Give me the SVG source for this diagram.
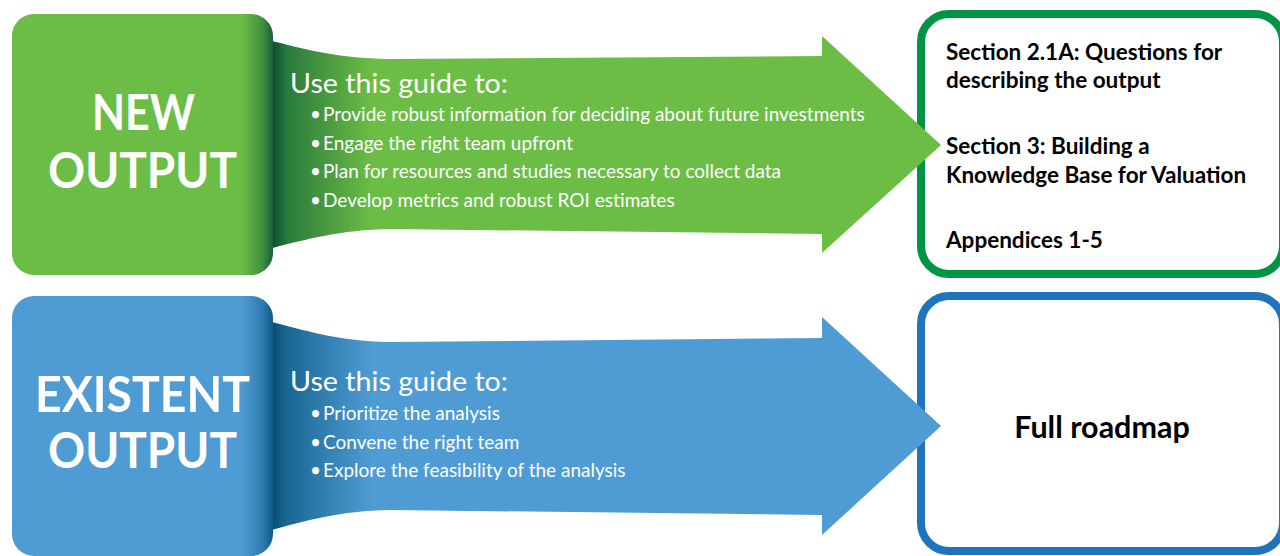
<svg xmlns="http://www.w3.org/2000/svg" width="1280" height="556" viewBox="0 0 1280 556">
<defs>
<linearGradient id="gSq" gradientUnits="userSpaceOnUse" x1="12" y1="0" x2="273" y2="0">
<stop offset="0" stop-color="#6cbd45"/><stop offset="0.88" stop-color="#6cbd45"/><stop offset="0.96" stop-color="#3f8f3f"/><stop offset="1" stop-color="#1b5e3a"/>
</linearGradient>
<linearGradient id="gSh" gradientUnits="userSpaceOnUse" x1="272" y1="0" x2="372" y2="0">
<stop offset="0" stop-color="#0c4a30"/><stop offset="0.15" stop-color="#2a7a3c"/><stop offset="1" stop-color="#6cbd45"/>
</linearGradient>
<linearGradient id="bSq" gradientUnits="userSpaceOnUse" x1="12" y1="0" x2="273" y2="0">
<stop offset="0" stop-color="#4f9cd4"/><stop offset="0.88" stop-color="#4f9cd4"/><stop offset="0.96" stop-color="#2f7aaf"/><stop offset="1" stop-color="#0f5a86"/>
</linearGradient>
<linearGradient id="bSh" gradientUnits="userSpaceOnUse" x1="272" y1="0" x2="372" y2="0">
<stop offset="0" stop-color="#064b72"/><stop offset="0.15" stop-color="#1a6795"/><stop offset="1" stop-color="#4f9cd4"/>
</linearGradient>
</defs>
<style>
.big{font-family:Lato,"Liberation Sans",sans-serif;font-weight:700;font-size:50px;fill:#fff}
.head{font-family:Lato,"Liberation Sans",sans-serif;font-weight:400;font-size:26px;fill:#fff}
.bul{font-family:Lato,"Liberation Sans",sans-serif;font-weight:400;font-size:19px;fill:#fff}
.box{font-family:Lato,"Liberation Sans",sans-serif;font-weight:700;font-size:22.5px;fill:#000}
.full{font-family:Lato,"Liberation Sans",sans-serif;font-weight:700;font-size:30.5px;fill:#000;text-anchor:middle}
</style>
<rect width="1280" height="556" fill="#fff"/>

<g id="box-new-sections">
<rect x="921" y="14" width="362" height="260" rx="28" fill="#fff" stroke="#009444" stroke-width="8"/>
<text class="box" x="946" y="60">Section 2.1A: Questions for</text>
<text class="box" x="946" y="88">describing the output</text>
<text class="box" x="946" y="154">Section 3: Building a</text>
<text class="box" x="946" y="183">Knowledge Base for Valuation</text>
<text class="box" x="946" y="248">Appendices 1-5</text>
</g>

<g id="box-full-roadmap">
<rect x="921" y="296" width="362" height="255" rx="28" fill="#fff" stroke="#2074bb" stroke-width="8"/>
<text class="full" x="1102" y="438">Full roadmap</text>
</g>

<g id="connectors">
<path id="arrow-new" fill="url(#gSh)" d="M268 40 C305 49 335 58 390 59 L822 56 L822 36 L941 145 L822 253 L822 234 L390 229 C340 230 308 239 268 249 Z"/>
<path id="arrow-existent" fill="url(#bSh)" d="M268 321 C305 330 335 341 390 342 L822 338 L822 317 L941 426 L822 535 L822 515 L390 510 C340 511 308 520 268 531 Z"/>
</g>

<g id="label-new">
<text class="head" x="290" y="93" textLength="218" lengthAdjust="spacingAndGlyphs">Use this guide to:</text>
<text class="bul" y="121"><tspan x="310">•</tspan><tspan x="323">Provide robust information for deciding about future investments</tspan></text>
<text class="bul" y="150"><tspan x="310">•</tspan><tspan x="323">Engage the right team upfront</tspan></text>
<text class="bul" y="178"><tspan x="310">•</tspan><tspan x="323">Plan for resources and studies necessary to collect data</tspan></text>
<text class="bul" y="207"><tspan x="310">•</tspan><tspan x="323">Develop metrics and robust ROI estimates</tspan></text>
</g>

<g id="label-existent">
<text class="head" x="290" y="391" textLength="218" lengthAdjust="spacingAndGlyphs">Use this guide to:</text>
<text class="bul" y="420"><tspan x="310">•</tspan><tspan x="323">Prioritize the analysis</tspan></text>
<text class="bul" y="449"><tspan x="310">•</tspan><tspan x="323">Convene the right team</tspan></text>
<text class="bul" y="477"><tspan x="310">•</tspan><tspan x="323">Explore the feasibility of the analysis</tspan></text>
</g>

<g id="node-new-output">
<rect x="12" y="14" width="261" height="261" rx="22" fill="url(#gSq)"/>
<text class="big" x="92" y="130" textLength="103" lengthAdjust="spacingAndGlyphs">NEW</text>
<text class="big" x="48" y="188" textLength="189" lengthAdjust="spacingAndGlyphs">OUTPUT</text>
</g>

<g id="node-existent-output">
<rect x="12" y="296" width="261" height="260" rx="22" fill="url(#bSq)"/>
<text class="big" x="35" y="412" textLength="215" lengthAdjust="spacingAndGlyphs">EXISTENT</text>
<text class="big" x="48" y="468" textLength="189" lengthAdjust="spacingAndGlyphs">OUTPUT</text>
</g>
</svg>
